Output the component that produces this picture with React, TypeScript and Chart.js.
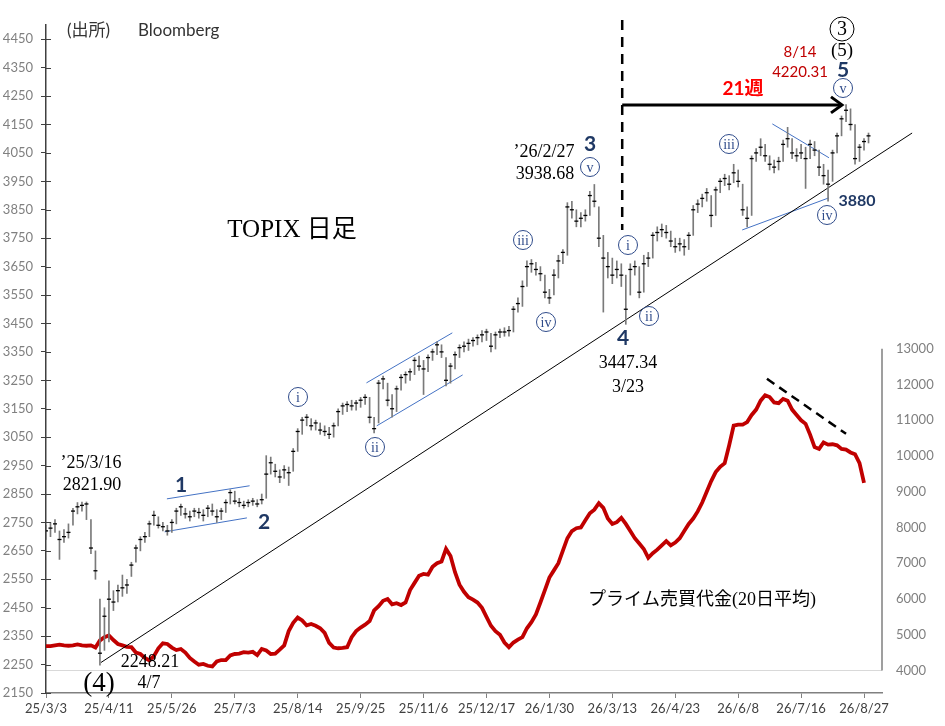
import React, { useEffect, useRef } from 'react';
import { Chart, registerables } from 'chart.js';

Chart.register(...registerables);

// x axis: one step = 2 trading days, a labelled tick every 14 steps
const xTickLabels = [
  '25/3/3', '25/4/11', '25/5/26', '25/7/3', '25/8/14', '25/9/25', '25/11/6',
  '25/12/17', '26/1/30', '26/3/13', '26/4/23', '26/6/8', '26/7/16', '26/8/27',
];
const leftTicks = [
  2150, 2250, 2350, 2450, 2550, 2650, 2750, 2850, 2950, 3050, 3150, 3250,
  3350, 3450, 3550, 3650, 3750, 3850, 3950, 4050, 4150, 4250, 4350, 4450,
];
const rightTicks = [4000, 5000, 6000, 7000, 8000, 9000, 10000, 11000, 12000, 13000];

// TOPIX (2-day bars)
const closes = [
  2720, 2730, 2745, 2690, 2700, 2715, 2790, 2805, 2810, 2815,
  2660, 2580, 2290, 2420, 2480, 2470, 2510, 2520, 2530, 2600,
  2660, 2690, 2700, 2745, 2775, 2740, 2735, 2720, 2750, 2790,
  2805, 2780, 2770, 2790, 2785, 2775, 2800, 2790, 2770, 2790,
  2820, 2855, 2825, 2820, 2810, 2820, 2825, 2815, 2830, 2920,
  2960, 2930, 2910, 2935, 2925, 3000, 3070, 3110, 3120, 3090,
  3100, 3075, 3070, 3060, 3090, 3140, 3160, 3165, 3160, 3170,
  3180, 3190, 3120, 3080, 3240, 3255, 3180, 3150, 3220, 3260,
  3270, 3280, 3320, 3300, 3290, 3330, 3350, 3375, 3350, 3250,
  3300, 3340, 3365, 3370, 3380, 3390, 3400, 3410, 3420, 3370,
  3410, 3420, 3420, 3425, 3500, 3520, 3580, 3650, 3660, 3640,
  3625, 3560, 3540, 3620, 3670, 3700, 3860, 3850, 3810, 3820,
  3830, 3900, 3880, 3750, 3680, 3650, 3620, 3640, 3620, 3500,
  3640, 3650, 3560, 3660, 3680, 3760, 3770, 3780, 3770, 3740,
  3720, 3730, 3720, 3760, 3850, 3870, 3890, 3910, 3830, 3920,
  3950, 3960, 3940, 3980, 3950, 3850, 3820, 4030, 4050, 4070,
  4040, 4010, 4000, 4020, 4080, 4100, 4050, 4040, 4050, 4030,
  4080, 4060, 4000, 3970, 3940, 4050, 4110, 4170, 4200, 4150,
  4030, 4070, 4090, 4110,
];
const highs = [
  2740, 2750, 2760, 2720, 2725, 2745, 2800, 2820, 2822, 2822,
  2760, 2650, 2480, 2450, 2545, 2510, 2530, 2565, 2550, 2610,
  2670, 2700, 2715, 2755, 2790, 2770, 2750, 2740, 2760, 2800,
  2815, 2800, 2790, 2800, 2800, 2795, 2810, 2815, 2795, 2800,
  2830, 2865, 2860, 2835, 2825, 2830, 2835, 2830, 2850, 2985,
  2980, 2955, 2935, 2950, 2945, 3010, 3080, 3120, 3130, 3115,
  3110, 3100, 3090, 3085, 3100, 3150, 3170, 3175, 3180, 3180,
  3190, 3200, 3190, 3120, 3250, 3265, 3240, 3200, 3230, 3270,
  3280, 3290, 3330, 3335, 3320, 3340, 3360, 3385, 3375, 3330,
  3310, 3350, 3375, 3385, 3395, 3400, 3410, 3425, 3430, 3415,
  3420, 3430, 3435, 3440, 3510, 3540, 3600, 3670, 3675, 3665,
  3650, 3620, 3570, 3640, 3690, 3710, 3875, 3880, 3850, 3840,
  3850, 3915, 3939, 3860, 3760, 3700, 3680, 3670, 3660, 3620,
  3660, 3670, 3650, 3690, 3700, 3770, 3790, 3800, 3795, 3775,
  3750, 3750, 3745, 3770, 3865, 3885, 3905, 3925, 3900, 3930,
  3960, 3975, 3970, 4010, 3990, 3940, 3860, 4040, 4065, 4100,
  4080, 4040, 4025, 4035, 4095, 4140, 4100, 4065, 4080, 4070,
  4095, 4090, 4060, 4010, 3990, 4060, 4120, 4180, 4220, 4205,
  4150, 4080, 4100, 4120,
];
const lows = [
  2690, 2700, 2715, 2620, 2680, 2695, 2740, 2780, 2790, 2760,
  2640, 2550, 2248, 2300, 2330, 2440, 2470, 2490, 2500, 2560,
  2610, 2650, 2680, 2700, 2740, 2730, 2720, 2705, 2715, 2745,
  2775, 2765, 2755, 2770, 2765, 2755, 2770, 2775, 2750, 2760,
  2785, 2815, 2815, 2805, 2800, 2805, 2810, 2805, 2815, 2835,
  2920, 2910, 2890, 2905, 2880, 2930, 3000, 3060, 3090, 3075,
  3075, 3060, 3055, 3045, 3050, 3090, 3130, 3140, 3145, 3145,
  3155, 3165, 3100, 3065, 3100, 3220, 3160, 3120, 3140, 3215,
  3240, 3250, 3270, 3285, 3200, 3280, 3320, 3340, 3330, 3230,
  3240, 3290, 3330, 3350, 3355, 3370, 3375, 3385, 3390, 3350,
  3360, 3400, 3405, 3405, 3420, 3490, 3510, 3580, 3630, 3620,
  3600, 3540, 3520, 3550, 3610, 3660, 3690, 3820, 3790, 3790,
  3810, 3830, 3860, 3720, 3490, 3610, 3590, 3610, 3580, 3447,
  3550, 3620, 3540, 3560, 3650, 3680, 3740, 3755, 3750, 3720,
  3700, 3705, 3690, 3710, 3760, 3840, 3860, 3880, 3790, 3830,
  3910, 3935, 3920, 3945, 3930, 3830, 3790, 3830, 4020, 4040,
  4020, 3990, 3980, 3990, 4020, 4070, 4030, 4020, 4030, 3925,
  4030, 4040, 3970, 3940, 3880, 3950, 4050, 4110, 4160, 4130,
  4010, 4020, 4060, 4085,
];

// Prime market trading value, 20-day average (right axis)
const primeValue = [
  4680, 4680, 4700, 4720, 4700, 4690, 4700, 4730, 4700, 4690,
  4700, 4640, 4840, 4930, 4980, 4850, 4740, 4700, 4660, 4650,
  4500, 4460, 4350, 4280, 4400, 4620, 4760, 4740, 4640, 4570,
  4600, 4500, 4350, 4250, 4160, 4180, 4130, 4110, 4250, 4290,
  4290, 4420, 4460, 4470, 4510, 4500, 4520, 4430, 4600, 4560,
  4460, 4470, 4580, 4700, 5100, 5330, 5480, 5400, 5260, 5300,
  5250, 5180, 5050, 4770, 4640, 4620, 4630, 4650, 4930, 5100,
  5200, 5280, 5380, 5680, 5800, 5950, 6000, 5850, 5880, 5830,
  5900, 6250, 6450, 6650, 6700, 6680, 6900, 7000, 7050, 7400,
  7200, 6750, 6400, 6200, 6050, 5980, 5900, 5750, 5500, 5250,
  5100, 5000, 4780, 4650, 4780, 4860, 4930, 5180, 5350, 5570,
  5900, 6250, 6600, 6800, 7000, 7350, 7700, 7900, 7980, 8000,
  8200, 8400, 8500, 8680, 8550, 8250, 8100, 8150, 8270, 8100,
  7900, 7700, 7550, 7400, 7150, 7280, 7380, 7500, 7620, 7500,
  7580, 7700, 7900, 8100, 8250, 8450, 8700, 9000, 9300, 9550,
  9700, 9800, 10300, 10850, 10880, 10880, 10950, 11150, 11300, 11550,
  11700, 11650, 11500, 11480, 11600, 11550, 11300, 11150, 11000, 10900,
  10600, 10250, 10200, 10380, 10320, 10330, 10300, 10200, 10180, 10100,
  10050, 9800, 9250,
];

const SERIF = '"Liberation Serif", "Noto Sans CJK JP", serif';
const SANS = 'Lato, "Noto Sans CJK JP", sans-serif';
const NAVY = '#1f3864';
const TREND = '#4472c4';

const notes = [
  { t: '(出所)', x: 67, y: 31, font: `17px ${SANS}`, color: '#333333', align: 'left' },
  { t: 'Bloomberg', x: 138, y: 31, font: `17px ${SANS}`, color: '#333333', align: 'left' },
  { t: 'TOPIX 日足', x: 292, y: 230, font: `25px ${SERIF}`, color: '#000000' },
  { t: 'プライム売買代金(20日平均)', x: 702, y: 600, font: `18px ${SERIF}`, color: '#000000' },
  { t: '\u201925/3/16', x: 91, y: 463, font: `18px ${SERIF}`, color: '#000000' },
  { t: '2821.90', x: 92, y: 485, font: `18px ${SERIF}`, color: '#000000' },
  { t: '2248.21', x: 150, y: 662, font: `18px ${SERIF}`, color: '#000000' },
  { t: '4/7', x: 149, y: 683, font: `18px ${SERIF}`, color: '#000000' },
  { t: '(4)', x: 99, y: 684, font: `27px ${SERIF}`, color: '#000000' },
  { t: '\u201926/2/27', x: 544, y: 152, font: `18px ${SERIF}`, color: '#000000' },
  { t: '3938.68', x: 545, y: 174, font: `18px ${SERIF}`, color: '#000000' },
  { t: '3447.34', x: 628, y: 363, font: `18px ${SERIF}`, color: '#000000' },
  { t: '3/23', x: 628, y: 387, font: `18px ${SERIF}`, color: '#000000' },
  { t: '1', x: 181, y: 485, font: `bold 21px ${SANS}`, color: NAVY },
  { t: '2', x: 264, y: 522, font: `bold 21px ${SANS}`, color: NAVY },
  { t: '3', x: 590, y: 144, font: `bold 21px ${SANS}`, color: NAVY },
  { t: '4', x: 623, y: 338, font: `bold 21px ${SANS}`, color: NAVY },
  { t: '5', x: 843, y: 70, font: `bold 21px ${SANS}`, color: NAVY },
  { t: '8/14', x: 800, y: 52, font: `15px ${SANS}`, color: '#c00000' },
  { t: '4220.31', x: 800, y: 72, font: `15px ${SANS}`, color: '#c00000' },
  { t: '21週', x: 743, y: 89, font: `bold 19px ${SANS}`, color: '#ff0000' },
  { t: '3880', x: 857, y: 201, font: `bold 16px ${SANS}`, color: NAVY },
  { t: '(5)', x: 842, y: 51, font: `19px ${SERIF}`, color: '#000000' },
];

const waveMarks = [
  { t: 'i', x: 298, y: 397 }, { t: 'ii', x: 375, y: 447 }, { t: 'iii', x: 523, y: 240 },
  { t: 'iv', x: 546, y: 322 }, { t: 'v', x: 590, y: 167 }, { t: 'i', x: 628, y: 245 },
  { t: 'ii', x: 649, y: 316 }, { t: 'iii', x: 729, y: 144 }, { t: 'iv', x: 827, y: 215 },
  { t: 'v', x: 843, y: 88 },
];

// arrow of the 21 weeks count (left-axis coordinates)
const arrowStart = { x: 128.2, y: 4219 };
const arrowEnd = { x: 177.1, y: 4219 };

const notesPlugin = {
  id: 'notes',
  afterDatasetsDraw(chart: any) {
    const { ctx, chartArea, scales } = chart;
    const xs = scales.x, ys = scales.y, y1 = scales.y1;
    ctx.save();

    // inner half of the left axis ticks
    ctx.strokeStyle = '#404040';
    ctx.lineWidth = 1;
    leftTicks.forEach((v) => {
      const py = Math.round(ys.getPixelForValue(v)) + 0.5;
      ctx.beginPath();
      ctx.moveTo(chartArea.left, py);
      ctx.lineTo(chartArea.left + 5, py);
      ctx.stroke();
    });

    // right axis line only over its own range
    ctx.strokeStyle = '#7f7f7f';
    ctx.lineWidth = 1.5;
    ctx.beginPath();
    ctx.moveTo(chartArea.right, y1.getPixelForValue(rightTicks[rightTicks.length - 1]));
    ctx.lineTo(chartArea.right, y1.getPixelForValue(rightTicks[0]));
    ctx.stroke();

    // arrow head
    const ax = xs.getPixelForValue(arrowEnd.x);
    const ay = ys.getPixelForValue(arrowEnd.y);
    ctx.strokeStyle = '#000';
    ctx.lineWidth = 3;
    ctx.beginPath();
    ctx.moveTo(ax - 11, ay - 8);
    ctx.lineTo(ax, ay);
    ctx.lineTo(ax - 11, ay + 8);
    ctx.stroke();

    // wave counts in circles
    ctx.textAlign = 'center';
    ctx.textBaseline = 'middle';
    waveMarks.forEach((m) => {
      ctx.strokeStyle = '#2f4b8a';
      ctx.lineWidth = 1;
      ctx.beginPath();
      ctx.arc(m.x, m.y, 9.5, 0, Math.PI * 2);
      ctx.stroke();
      ctx.fillStyle = '#2f4b8a';
      ctx.font = `14px ${SERIF}`;
      ctx.fillText(m.t, m.x, m.y + 1);
    });

    // big circled 3
    ctx.strokeStyle = '#000';
    ctx.lineWidth = 1;
    ctx.beginPath();
    ctx.arc(842, 29, 12, 0, Math.PI * 2);
    ctx.stroke();
    ctx.fillStyle = '#000';
    ctx.font = `20px ${SERIF}`;
    ctx.fillText('3', 842, 30);

    notes.forEach((n) => {
      ctx.font = n.font;
      ctx.fillStyle = n.color;
      ctx.textAlign = (n.align as CanvasTextAlign) || 'center';
      ctx.fillText(n.t, n.x, n.y);
    });

    ctx.restore();
  },
};

const seg = (a: { x: number; y: number }, b: { x: number; y: number }) => [a, b];
const plain = (v: any) => String(v);

const App: React.FC = () => {
  const chartRef = useRef<HTMLCanvasElement | null>(null);

  useEffect(() => {
    if (!chartRef.current) return;

    const chartInstance = new Chart(chartRef.current, {
      type: 'bar',
      data: {
        datasets: [
          {
            type: 'scatter',
            data: closes.map((c, i) => ({ x: i, y: c })),
            pointStyle: 'line',
            pointRadius: 2,
            pointBorderWidth: 1.3,
            pointBorderColor: '#000000',
            order: 0,
          } as any,
          {
            type: 'bar',
            data: highs.map((h, i) => ({ x: i, y: [lows[i], h] })),
            backgroundColor: '#7a7a7a',
            barThickness: 1,
            grouped: false,
            order: 1,
          } as any,
          {
            type: 'line',
            data: seg({ x: 12.2, y: 2257 }, { x: 192.7, y: 4120 }),
            borderColor: '#000000',
            borderWidth: 1,
            pointRadius: 0,
            clip: false,
            order: 2,
          } as any,
          { type: 'line', data: seg({ x: 26.9, y: 2833 }, { x: 45.3, y: 2879 }), borderColor: TREND, borderWidth: 1, pointRadius: 0, order: 2 } as any,
          { type: 'line', data: seg({ x: 26.4, y: 2717 }, { x: 44.7, y: 2766 }), borderColor: TREND, borderWidth: 1, pointRadius: 0, order: 2 } as any,
          { type: 'line', data: seg({ x: 71.3, y: 3241 }, { x: 90.4, y: 3417 }), borderColor: TREND, borderWidth: 1, pointRadius: 0, order: 2 } as any,
          { type: 'line', data: seg({ x: 73.6, y: 3090 }, { x: 92.7, y: 3269 }), borderColor: TREND, borderWidth: 1, pointRadius: 0, order: 2 } as any,
          { type: 'line', data: seg({ x: 161.6, y: 4152 }, { x: 174.2, y: 4033 }), borderColor: TREND, borderWidth: 1, pointRadius: 0, order: 2 } as any,
          { type: 'line', data: seg({ x: 154.9, y: 3779 }, { x: 174.2, y: 3892 }), borderColor: TREND, borderWidth: 1, pointRadius: 0, order: 2 } as any,
          {
            type: 'line',
            data: seg({ x: 128.2, y: 4518 }, { x: 128.2, y: 3779 }),
            borderColor: '#000000',
            borderWidth: 2.5,
            borderDash: [10, 7],
            pointRadius: 0,
            clip: false,
            order: 2,
          } as any,
          {
            type: 'line',
            data: seg(arrowStart, arrowEnd),
            borderColor: '#000000',
            borderWidth: 3,
            pointRadius: 0,
            order: 2,
          } as any,
          {
            type: 'line',
            yAxisID: 'y1',
            data: seg({ x: 160.4, y: 12161 }, { x: 178, y: 10622 }),
            borderColor: '#000000',
            borderWidth: 2.5,
            borderDash: [9, 6],
            pointRadius: 0,
            order: 2,
          } as any,
          {
            type: 'line',
            yAxisID: 'y1',
            data: primeValue.map((v, i) => ({ x: i, y: v })),
            borderColor: '#c00000',
            borderWidth: 3.8,
            pointRadius: 0,
            order: 5,
          } as any,
        ],
      },
      options: {
        animation: false,
        responsive: true,
        maintainAspectRatio: false,
        events: [],
        layout: { padding: { top: 25, left: 0, right: 0, bottom: 0 } },
        plugins: { legend: { display: false }, tooltip: { enabled: false } },
        scales: {
          x: {
            type: 'linear',
            min: 0,
            max: 186,
            offset: false,
            afterBuildTicks: (s: any) => {
              s.ticks = xTickLabels.map((_, k) => ({ value: k * 14 }));
            },
            afterFit: (s: any) => {
              s.height = 33;
            },
            ticks: {
              callback: (_v: any, idx: number) => xTickLabels[idx],
              color: '#404040',
              font: { family: 'Lato', size: 13 },
              padding: 3,
              maxRotation: 0,
              autoSkip: false,
            },
            grid: { drawOnChartArea: false, offset: false, tickLength: 5, color: '#808080' },
            border: { color: '#808080', width: 1.5 },
          },
          y: {
            position: 'left',
            min: 2150,
            max: 4500,
            afterBuildTicks: (s: any) => {
              s.ticks = leftTicks.map((v) => ({ value: v }));
            },
            afterFit: (s: any) => {
              s.width = 46;
            },
            ticks: { callback: plain, color: '#808080', font: { family: 'Lato', size: 13 }, padding: 8 },
            grid: { drawOnChartArea: false, tickLength: 5, color: '#404040' },
            border: { color: '#404040', width: 1.5 },
          },
          y1: {
            position: 'right',
            min: 3368,
            max: 22064,
            afterBuildTicks: (s: any) => {
              s.ticks = rightTicks.map((v) => ({ value: v }));
            },
            afterFit: (s: any) => {
              s.width = 63;
            },
            ticks: { callback: plain, color: '#808080', font: { family: 'Lato', size: 13 }, padding: 14 },
            grid: {
              drawTicks: false,
              color: (c: any) => (c.tick && c.tick.value === 4000 ? '#d9d9d9' : 'rgba(0,0,0,0)'),
            },
            border: { display: false },
          },
        },
      } as any,
      plugins: [notesPlugin],
    });

    return () => {
      chartInstance.destroy();
    };
  }, []);

  return (
    <div style={{ position: 'absolute', left: 0, top: 0, width: 945, height: 726, background: '#fff' }}>
      <canvas ref={chartRef} />
    </div>
  );
};

export default App;
